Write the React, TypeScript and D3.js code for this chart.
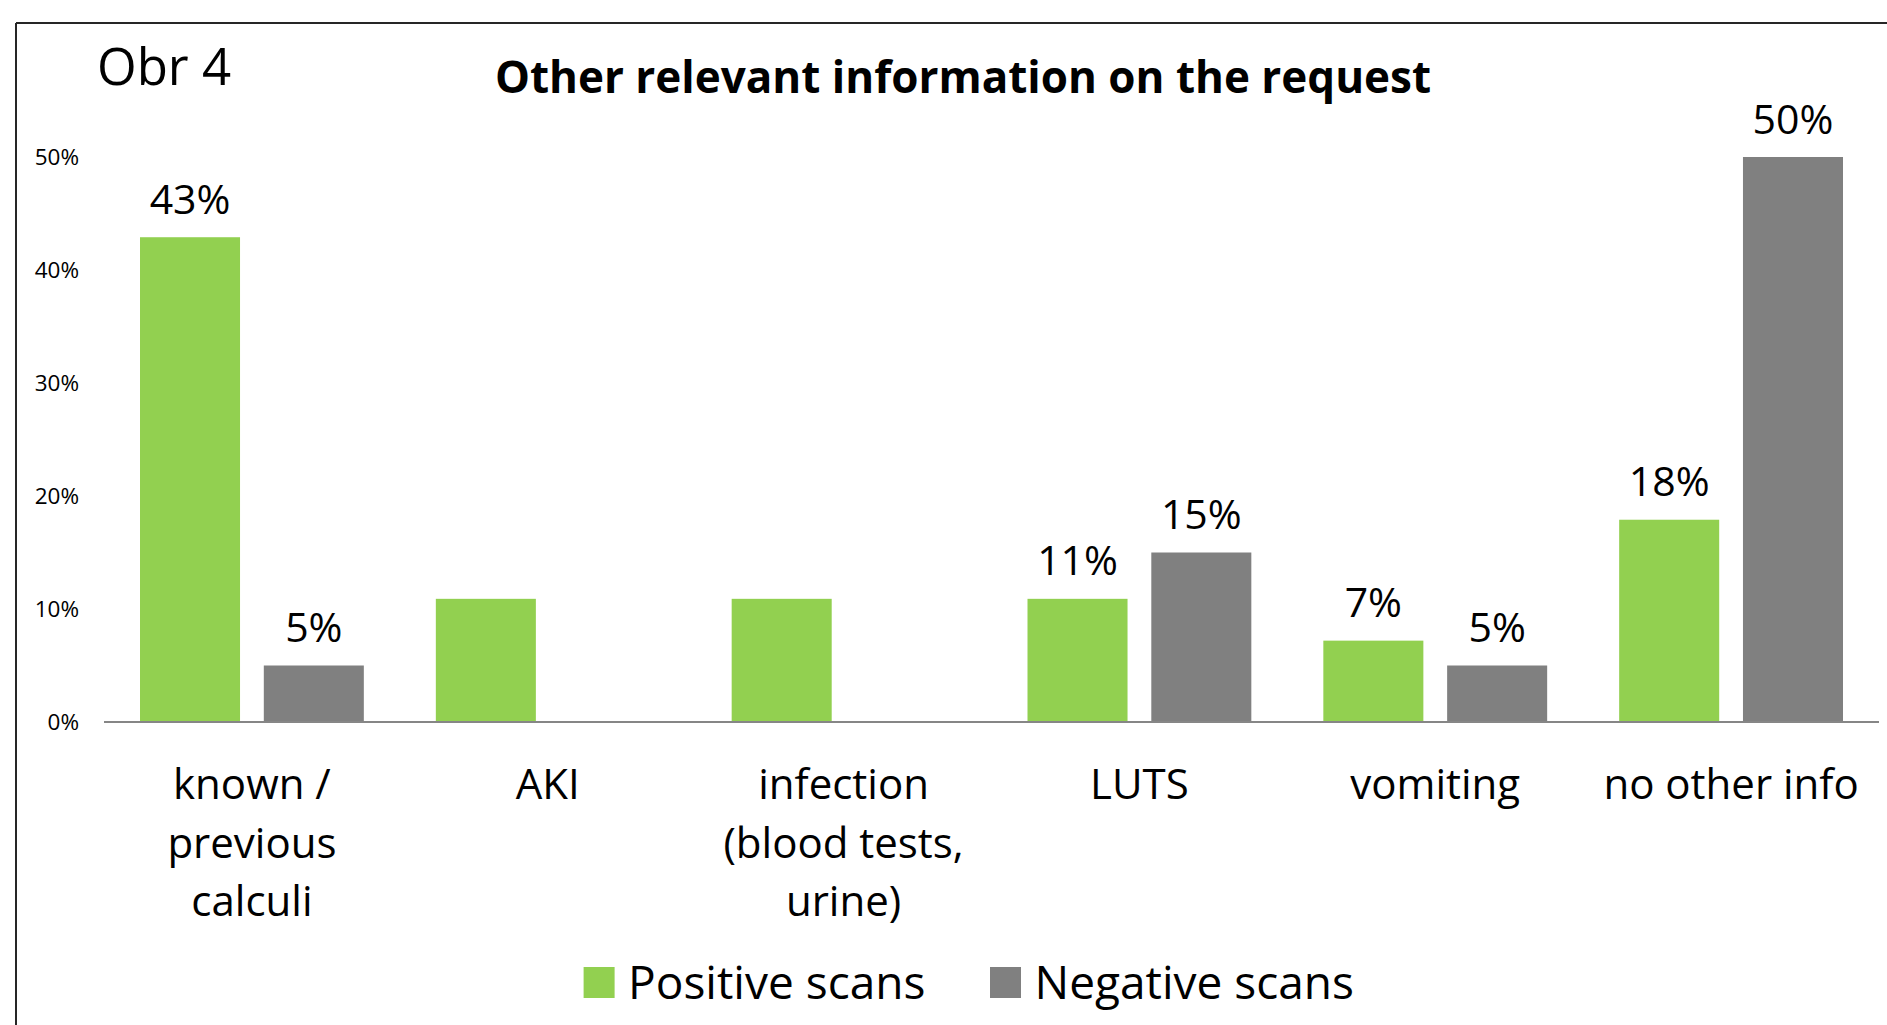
import React from "react";
import * as d3 from "d3";

const categories: string[][] = [
  ["known /", "previous", "calculi"],
  ["AKI"],
  ["infection", "(blood tests,", "urine)"],
  ["LUTS"],
  ["vomiting"],
  ["no other info"],
];
const series = ["Positive scans", "Negative scans"];
const positive = [0.429, 0.109, 0.109, 0.109, 0.072, 0.179];
const negative = [0.05, 0, 0, 0.15, 0.05, 0.5];
const positiveLabels: (string | null)[] = ["43%", null, null, "11%", "7%", "18%"];
const negativeLabels: (string | null)[] = ["5%", null, null, "15%", "5%", "50%"];
const yTicks = [0, 0.1, 0.2, 0.3, 0.4, 0.5];
const colors = ["#92D050", "#808080"];

const W = 1887;
const H = 1025;
const FONT = "'Open Sans', 'Noto Sans', sans-serif";

export default function App() {
  const x = d3
    .scaleBand<number>()
    .domain(d3.range(categories.length))
    .range([104, 1879])
    .padding(0);
  const bw = x.bandwidth();
  const xi = d3
    .scaleBand<string>()
    .domain(series)
    .range([36, bw - 36])
    .paddingInner(0.192)
    .paddingOuter(0);
  const y = d3.scaleLinear().domain([0, 0.5]).range([722, 157]);
  const pct = d3.format(".0%");
  const valuesBySeries = [positive, negative];
  const labelsBySeries = [positiveLabels, negativeLabels];

  return (
    <svg
      width={W}
      height={H}
      style={{ position: "absolute", left: 0, top: 0, display: "block", background: "#fff" }}
      fontFamily={FONT}
    >
      <rect x={0} y={0} width={W} height={H} fill="#fff" />
      {/* frame */}
      <line x1={16} y1={23} x2={W} y2={23} stroke="#262626" strokeWidth={2} />
      <line x1={16} y1={23} x2={16} y2={H} stroke="#262626" strokeWidth={2} />

      <text x={97} y={85} fontSize={51} fill="#000">
        Obr 4
      </text>
      <text x={963} y={93} fontSize={44} fontWeight={700} textAnchor="middle" fill="#000">
        Other relevant information on the request
      </text>

      {/* y ticks */}
      {yTicks.map((t) => (
        <text key={t} x={79} y={y(t) + 8} fontSize={22.5} textAnchor="end" fill="#000">
          {pct(t)}
        </text>
      ))}

      {/* bars */}
      {categories.map((c, i) => (
        <g key={i} transform={`translate(${x(i)},0)`}>
          {series.map((s, si) => {
            const v = valuesBySeries[si][i];
            const lbl = labelsBySeries[si][i];
            const bx = xi(s)!;
            return (
              <g key={s}>
                {v > 0 && (
                  <rect x={bx} y={y(v)} width={xi.bandwidth()} height={y(0) - y(v)} fill={colors[si]} />
                )}
                {lbl && (
                  <text
                    x={bx + xi.bandwidth() / 2}
                    y={y(v) - 23.5}
                    fontSize={41}
                    textAnchor="middle"
                    fill="#000"
                  >
                    {lbl}
                  </text>
                )}
              </g>
            );
          })}
          {c.map((line, li) => (
            <text
              key={li}
              x={bw / 2}
              y={799 + li * 58.5}
              fontSize={42}
              textAnchor="middle"
              fill="#000"
            >
              {line}
            </text>
          ))}
        </g>
      ))}

      {/* x axis line */}
      <line x1={104} y1={y(0)} x2={1879} y2={y(0)} stroke="#868686" strokeWidth={2} />

      {/* legend */}
      {series.map((s, si) => {
        const lx = si === 0 ? 583.6 : 990;
        return (
          <g key={s}>
            <rect x={lx} y={967} width={31} height={31} fill={colors[si]} />
            <text x={lx + 44.5} y={999} fontSize={46} fill="#000">
              {s}
            </text>
          </g>
        );
      })}
    </svg>
  );
}
